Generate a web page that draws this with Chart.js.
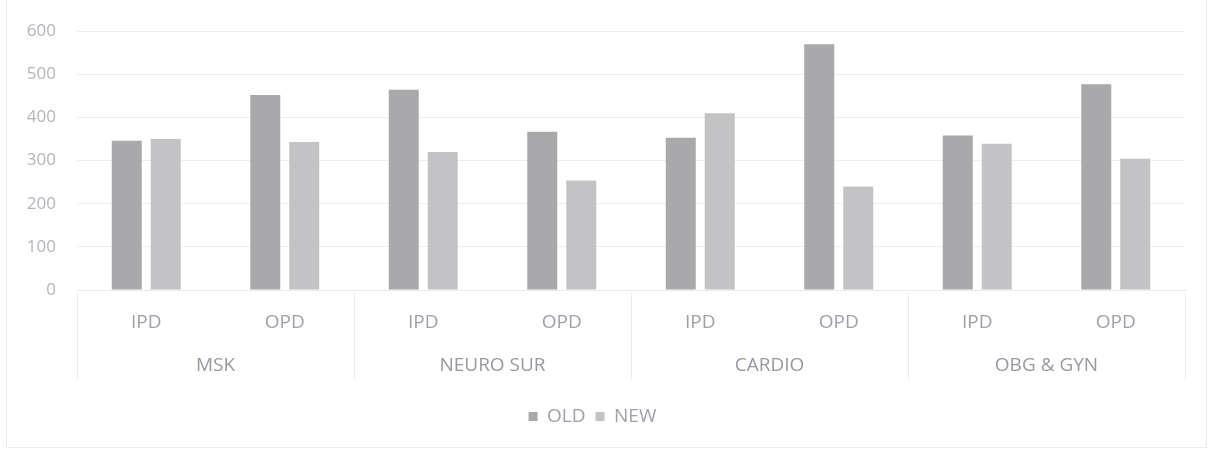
<!DOCTYPE html>
<html>
<head>
<meta charset="utf-8">
<script src="https://cdn.jsdelivr.net/npm/chart.js@4.4.1/dist/chart.umd.min.js"></script>
<style>
  html, body { margin: 0; padding: 0; background: #fff; }
  #wrap { position: relative; width: 1211px; height: 451px; }
  #frame { position: absolute; left: 6px; top: -2px; width: 1201px; height: 450px; border: 1px solid #ededf0; box-sizing: border-box; }
  #chart { position: absolute; left: 0; top: 0; }
</style>
</head>
<body>
<div id="wrap">
  <div id="frame"></div>
  <canvas id="chart" width="1211" height="451"></canvas>
</div>
<script>
// departments and visit types (two-level x axis)
var groups = ['MSK', 'NEURO SUR', 'CARDIO', 'OBG & GYN'];
var visitTypes = ['IPD', 'OPD'];

// values per department: IPD, OPD
var oldValues = [346, 452, 464, 367, 353, 570, 358, 477];
var newValues = [350, 343, 320, 254, 410, 240, 339, 304];

var yTicks = [0, 100, 200, 300, 400, 500, 600];

var labels = [];
groups.forEach(function () {
    visitTypes.forEach(function (t) { labels.push(t); });
});

var font = { family: '"Open Sans", sans-serif', size: 17 };
var bigFont = { family: '"Open Sans", sans-serif', size: 19 };

// vertical separators between the department groups
var groupLines = {
    id: 'groupLines',
    afterDraw: function (chart) {
        var s = chart.scales.x2;
        var top = chart.scales.x.top + 3;
        var bottom = s.bottom - 17;
        var ctx = chart.ctx;
        ctx.save();
        ctx.strokeStyle = '#ececf0';
        ctx.lineWidth = 1;
        for (var i = 0; i <= groups.length; i++) {
            var px = Math.round(s.getPixelForValue(i - 0.5)) + 0.5;
            ctx.beginPath();
            ctx.moveTo(px, top);
            ctx.lineTo(px, bottom);
            ctx.stroke();
        }
        ctx.restore();
    }
};

new Chart(document.getElementById('chart').getContext('2d'), {
    type: 'bar',
    data: {
        labels: labels,
        datasets: [{
            label: 'OLD',
            data: oldValues,
            backgroundColor: '#a9a9ab',
            categoryPercentage: 0.563,
            barPercentage: 0.77
        }, {
            label: 'NEW',
            data: newValues,
            backgroundColor: '#c3c3c5',
            categoryPercentage: 0.563,
            barPercentage: 0.77
        }]
    },
    options: {
        responsive: false,
        animation: false,
        layout: { padding: { left: 0, right: 26, top: 30, bottom: 15 } },
        plugins: {
            legend: {
                position: 'bottom',
                labels: {
                    boxWidth: 9,
                    boxHeight: 9,
                    padding: 10,
                    color: '#a0a0aa',
                    font: bigFont
                }
            },
            tooltip: { enabled: false }
        },
        scales: {
            y: {
                min: 0,
                max: 600,
                afterBuildTicks: function (scale) {
                    scale.ticks = yTicks.map(function (v) { return { value: v }; });
                },
                afterFit: function (scale) { scale.width = 77; },
                border: { display: false },
                grid: { color: '#efeaf3', drawTicks: false },
                ticks: { padding: 21, color: '#b4b4bc', font: font }
            },
            x: {
                weight: 0,
                afterFit: function (scale) { scale.height = 52; },
                border: { display: true, color: '#ebe8ee' },
                grid: { display: false },
                ticks: { padding: 13, color: '#a0a0aa', font: bigFont, maxRotation: 0, autoSkip: false }
            },
            x2: {
                type: 'category',
                labels: groups,
                position: 'bottom',
                offset: true,
                weight: 1,
                afterFit: function (scale) { scale.height = 55; },
                border: { display: false },
                grid: { display: false },
                ticks: { padding: 4, color: '#9898a3', font: bigFont, maxRotation: 0, autoSkip: false }
            }
        }
    },
    plugins: [groupLines]
});
</script>
</body>
</html>
